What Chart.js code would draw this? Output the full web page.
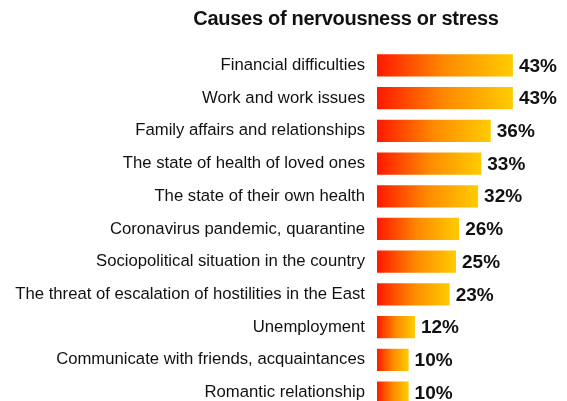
<!DOCTYPE html>
<html>
<head>
<meta charset="utf-8">
<script src="https://cdn.jsdelivr.net/npm/chart.js@4/dist/chart.umd.min.js"></script>
<style>
  html, body { margin: 0; padding: 0; background: #fff; overflow: hidden; }
  #wrap { position: relative; width: 567px; height: 431px; }
  #title {
    position: absolute; top: 7px; left: 166px; width: 360px; text-align: center;
    font: bold 20px "Liberation Sans", Arial, sans-serif; color: #111; letter-spacing: -0.3px;
  }
</style>
</head>
<body>
<div id="wrap">
  <div id="title">Causes of nervousness or stress</div>
  <canvas id="myChart" width="567" height="431"></canvas>
</div>
<script>
var categories = [
    'Financial difficulties',
    'Work and work issues',
    'Family affairs and relationships',
    'The state of health of loved ones',
    'The state of their own health',
    'Coronavirus pandemic, quarantine',
    'Sociopolitical situation in the country',
    'The threat of escalation of hostilities in the East',
    'Unemployment',
    'Communicate with friends, acquaintances',
    'Romantic relationship'
];
var values = [43, 43, 36, 33, 32, 26, 25, 23, 12, 10, 10];

// gradient per bar, red at the base to yellow at the tip
function barGradient(context) {
    var chart = context.chart;
    if (!chart.chartArea) return '#ff8000';
    var x0 = chart.scales.x.getPixelForValue(0);
    var x1 = chart.scales.x.getPixelForValue(context.raw);
    var g = chart.ctx.createLinearGradient(x0, 0, x1, 0);
    g.addColorStop(0, '#ff1800');
    g.addColorStop(0.5, '#ff8a00');
    g.addColorStop(1, '#ffcc00');
    return g;
}

var valueLabels = {
    id: 'valueLabels',
    afterDatasetsDraw: function (chart) {
        var ctx = chart.ctx;
        var meta = chart.getDatasetMeta(0);
        ctx.save();
        ctx.font = 'bold 19px "Liberation Sans", Arial, sans-serif';
        ctx.fillStyle = '#111';
        ctx.textAlign = 'left';
        ctx.textBaseline = 'middle';
        meta.data.forEach(function (bar, i) {
            ctx.fillText(values[i] + '%', bar.x + 6, bar.y + 1);
        });
        ctx.restore();
    }
};

var ctx = document.getElementById('myChart').getContext('2d');
var chart = new Chart(ctx, {
    type: 'bar',
    data: {
        labels: categories,
        datasets: [{
            data: values,
            backgroundColor: barGradient,
            borderWidth: 0,
            categoryPercentage: 1,
            barPercentage: 0.68
        }]
    },
    options: {
        indexAxis: 'y',
        responsive: false,
        animation: false,
        layout: { padding: { top: 49, right: 32, bottom: 0, left: 0 } },
        plugins: { legend: { display: false }, tooltip: { enabled: false } },
        scales: {
            x: { display: false, min: 0, max: 50 },
            y: {
                grid: { display: false, drawTicks: false },
                border: { display: false },
                ticks: {
                    color: '#111',
                    padding: 12,
                    font: { family: '"Liberation Sans", Arial, sans-serif', size: 16.7 }
                },
                afterFit: function (scale) { scale.width = 377; }
            }
        }
    },
    plugins: [valueLabels]
});
</script>
</body>
</html>
